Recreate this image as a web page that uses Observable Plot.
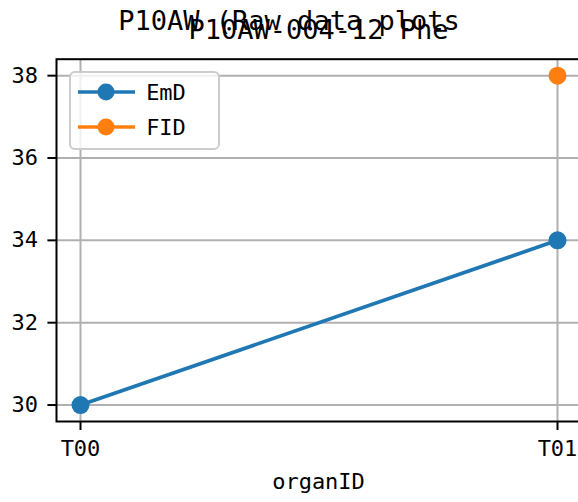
<!DOCTYPE html>
<html>
<head>
<meta charset="utf-8">
<script src="https://cdn.jsdelivr.net/npm/d3@7"></script>
<script src="https://cdn.jsdelivr.net/npm/@observablehq/plot@0.6"></script>
<style>
  html, body { margin: 0; padding: 0; overflow: hidden; background: white; }
  #chart { position: relative; width: 578px; height: 502px; overflow: hidden; }
</style>
</head>
<body>
<div id="chart"></div>
<script>
const FONT = '"DejaVu Sans Mono", "Liberation Mono", monospace';

// ---- data ----
const organs = ["T00", "T01"];
const seriesNames = ["EmD", "FID"];
const seriesColors = ["#1f77b4", "#ff7f0e"];
const emdValues = [30, 34];
const fidValues = [null, 38];
const yTicks = [30, 32, 34, 36, 38];
const yDomain = [29.6, 38.4];
const suptitle = "P10AW (Raw data plots";
const axTitle = "P10AW-004-12 Phe";
const xLabel = "organID";

const rows = [];
[emdValues, fidValues].forEach((vals, si) => {
  vals.forEach((v, i) => {
    rows.push({series: seriesNames[si], organ: organs[i], value: v == null ? NaN : v});
  });
});
const valid = rows.filter(d => !isNaN(d.value));

const plot = Plot.plot({
  width: 581,
  height: 502,
  marginLeft: 56,
  marginRight: 0,
  marginTop: 58.7,
  marginBottom: 81,
  style: {fontFamily: FONT, fontSize: "22px", color: "black", background: "white", maxWidth: "none", overflow: "visible"},
  x: {type: "point", domain: organs, padding: 0.05, label: null},
  y: {domain: yDomain, label: null},
  color: {domain: seriesNames, range: seriesColors},
  marks: [
    Plot.gridY(yTicks, {stroke: "#b0b0b0", strokeOpacity: 1, strokeWidth: 2}),
    Plot.gridX(organs, {stroke: "#b0b0b0", strokeOpacity: 1, strokeWidth: 2}),
    Plot.line(rows, {x: "organ", y: "value", z: "series", stroke: "series", strokeWidth: 3.7}),
    Plot.dot(valid, {x: "organ", y: "value", fill: "series", r: 9, stroke: null}),
    Plot.frame({stroke: "black", strokeWidth: 2}),
    Plot.axisY(yTicks, {tickSize: 8.6, tickPadding: 10, strokeWidth: 2, fontSize: 22, label: null, tickFormat: d => String(d)}),
    Plot.axisX(organs, {tickSize: 9, tickPadding: 10, strokeWidth: 2, fontSize: 22, label: null})
  ]
});
plot.style.maxWidth = "none";
document.getElementById("chart").appendChild(plot);

const svg = d3.select(plot);
// titles
svg.append("text").attr("x", 289).attr("y", 30).attr("text-anchor", "middle")
  .attr("font-family", FONT).attr("font-size", 27).attr("fill", "black").text(suptitle);
svg.append("text").attr("x", 318.5).attr("y", 38.5).attr("text-anchor", "middle")
  .attr("font-family", FONT).attr("font-size", 27).attr("fill", "black").text(axTitle);
// x label
svg.append("text").attr("x", 318.5).attr("y", 489).attr("text-anchor", "middle")
  .attr("font-family", FONT).attr("font-size", 22).attr("fill", "black").text(xLabel);

// legend
const lg = svg.append("g");
lg.append("rect").attr("x", 70).attr("y", 72).attr("width", 149).attr("height", 77).attr("rx", 5)
  .attr("fill", "white").attr("fill-opacity", 0.8).attr("stroke", "#cccccc").attr("stroke-width", 2);
seriesNames.forEach((name, i) => {
  const cy = 92 + i * 35;
  lg.append("line").attr("x1", 78).attr("x2", 135).attr("y1", cy).attr("y2", cy)
    .attr("stroke", seriesColors[i]).attr("stroke-width", 3.7);
  lg.append("circle").attr("cx", 106).attr("cy", cy).attr("r", 8.5).attr("fill", seriesColors[i]);
  lg.append("text").attr("x", 166).attr("y", cy + 8).attr("font-family", FONT).attr("font-size", 22)
    .attr("fill", "black").text(name);
});
</script>
</body>
</html>
